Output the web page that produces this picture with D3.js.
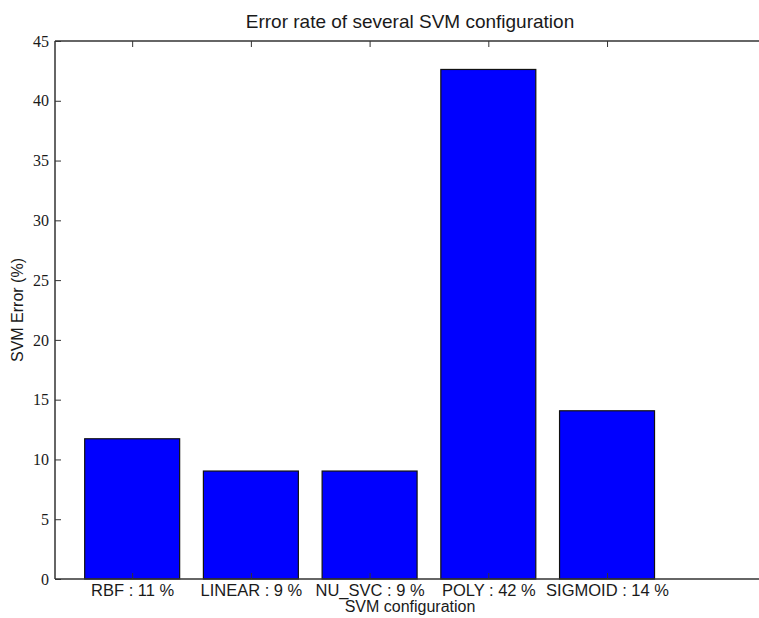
<!DOCTYPE html>
<html>
<head>
<meta charset="utf-8">
<script src="https://cdn.jsdelivr.net/npm/d3@7"></script>
<style>
  html, body { margin: 0; padding: 0; background: #fff; }
  svg { display: block; }
</style>
</head>
<body>
<svg id="chart" width="759" height="618"></svg>
<script>
// SVM kernel configurations and their error rate (%)
const configs = ["RBF", "LINEAR", "NU_SVC", "POLY", "SIGMOID"];
const errors = [11.73, 9.03, 9.03, 42.62, 14.07];
const yTicks = [0, 5, 10, 15, 20, 25, 30, 35, 40, 45];
const xLimits = [0.35, 6.28];
const yLimits = [0, 45];

const svg = d3.select("#chart");
const plotLeft = 55, plotRight = 759, plotTop = 41, plotBottom = 579;

const x = d3.scaleLinear().domain(xLimits).range([plotLeft, plotRight]);
const y = d3.scaleLinear().domain(yLimits).range([plotBottom, plotTop]);

const positions = configs.map((_, i) => i + 1);
const barHalf = 0.4;

// bars
svg.append("g")
  .selectAll("rect")
  .data(errors)
  .join("rect")
  .attr("x", (d, i) => x(positions[i] - barHalf))
  .attr("width", (d, i) => x(positions[i] + barHalf) - x(positions[i] - barHalf))
  .attr("y", d => y(d))
  .attr("height", d => y(0) - y(d))
  .attr("fill", "#0000ff")
  .attr("stroke", "#111")
  .attr("stroke-width", 1.2);

const axisColor = "#333";
const tickLabel = (d, i) => `${configs[i]} : ${Math.floor(errors[i])} %`;

// left axis, ticks pointing inward
const gy = svg.append("g")
  .attr("transform", `translate(${plotLeft},0)`)
  .call(d3.axisLeft(y).tickValues(yTicks).tickSize(-6).tickPadding(6));
gy.select(".domain").remove();
gy.selectAll(".tick line").attr("stroke", axisColor).attr("stroke-width", 1);
gy.selectAll(".tick text")
  .attr("font-family", "'Liberation Serif', 'DejaVu Serif', serif")
  .attr("font-size", 16)
  .attr("fill", "#1a1a1a");

// bottom axis with category labels
const gx = svg.append("g")
  .attr("transform", `translate(0,${plotBottom})`)
  .call(d3.axisBottom(x).tickValues(positions).tickSize(-6).tickPadding(5)
    .tickFormat((d, i) => tickLabel(d, i)));
gx.select(".domain").remove();
gx.selectAll(".tick line").attr("stroke", axisColor).attr("stroke-width", 1);
gx.selectAll(".tick text")
  .attr("font-family", "'Liberation Sans', Arial, sans-serif")
  .attr("font-size", 16.5)
  .attr("fill", "#1a1a1a");

// top ticks, pointing down
const gt = svg.append("g")
  .attr("transform", `translate(0,${plotTop})`)
  .call(d3.axisTop(x).tickValues(positions).tickSize(-6).tickFormat(""));
gt.select(".domain").remove();
gt.selectAll(".tick line").attr("stroke", axisColor).attr("stroke-width", 1);

// axes frame: left, bottom and top edges
const frame = svg.append("g").attr("stroke", axisColor).attr("stroke-width", 1.5).attr("fill", "none");
frame.append("line").attr("x1", plotLeft).attr("x2", plotLeft).attr("y1", plotTop).attr("y2", plotBottom);
frame.append("line").attr("x1", plotLeft).attr("x2", plotRight).attr("y1", plotBottom).attr("y2", plotBottom);
frame.append("line").attr("x1", plotLeft).attr("x2", plotRight).attr("y1", plotTop).attr("y2", plotTop);

// title and axis labels
svg.append("text")
  .attr("x", 410).attr("y", 28)
  .attr("text-anchor", "middle")
  .attr("font-family", "'Liberation Sans', Arial, sans-serif")
  .attr("font-size", 19)
  .attr("fill", "#1a1a1a")
  .text("Error rate of several SVM configuration");

svg.append("text")
  .attr("x", 410).attr("y", 612)
  .attr("text-anchor", "middle")
  .attr("font-family", "'Liberation Sans', Arial, sans-serif")
  .attr("font-size", 16)
  .attr("fill", "#1a1a1a")
  .text("SVM configuration");

svg.append("text")
  .attr("transform", `translate(23,${(plotTop + plotBottom) / 2}) rotate(-90)`)
  .attr("text-anchor", "middle")
  .attr("font-family", "'Liberation Sans', Arial, sans-serif")
  .attr("font-size", 16)
  .attr("fill", "#1a1a1a")
  .text("SVM Error (%)");
</script>
</body>
</html>
